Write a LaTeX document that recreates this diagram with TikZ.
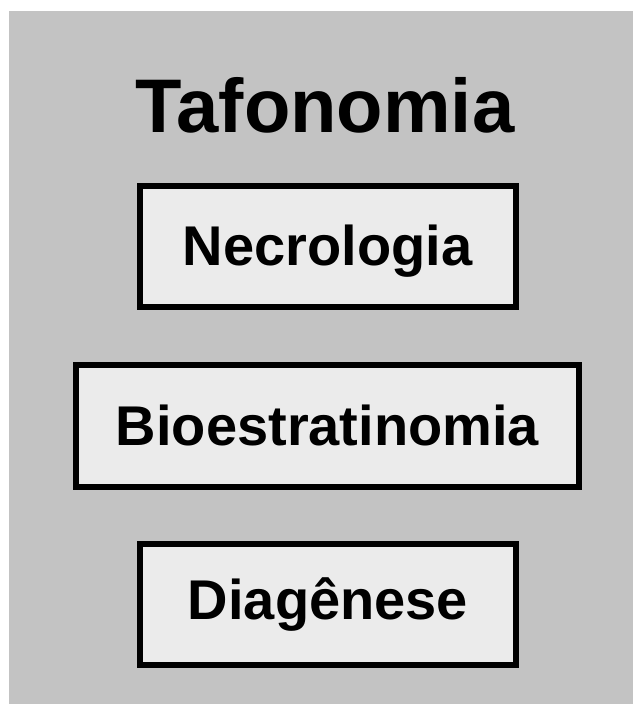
\documentclass[tikz,border=0pt]{standalone}
\usepackage{fontspec}
\setmainfont{Liberation Sans}
\definecolor{bggray}{HTML}{C3C3C3}
\definecolor{boxfill}{HTML}{EBEBEB}
\tikzset{
  stagebox/.style={draw=black, fill=boxfill, line width=6pt, inner sep=0pt,
    text height=38pt, text depth=0pt,
    font=\bfseries\fontsize{56}{60}\selectfont},
  titletext/.style={inner sep=0pt, anchor=base, font=\bfseries\fontsize{76}{80}\selectfont}
}
\begin{document}
\begin{tikzpicture}[x=1pt,y=-1pt]
\useasboundingbox (0,0) rectangle (633,704);
\fill[bggray] (9,11) rectangle (633,704);
\node[titletext] (title) at (325,132) {Tafonomia};
\node[stagebox, minimum width=376pt, minimum height=121pt] (necro) at (327.5,246.5) {Necrologia};
\node[stagebox, minimum width=503pt, minimum height=122pt] (bio) at (327.5,426) {Bioestratinomia};
\node[stagebox, text depth=9pt, minimum width=376pt, minimum height=121pt] (diag) at (328,604.5) {Diagênese};
\end{tikzpicture}
\end{document}
